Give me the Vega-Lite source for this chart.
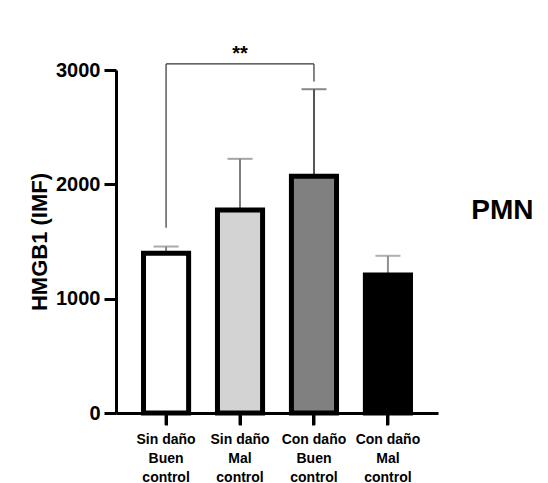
{
  "$schema": "https://vega.github.io/schema/vega-lite/v6.json",
  "width": 322,
  "height": 343,
  "autosize": "none",
  "padding": {"left": 116, "top": 70, "right": 110, "bottom": 70},
  "background": "white",
  "config": {
    "view": {"stroke": null},
    "font": "Liberation Sans",
    "axis": {"labelFont": "Liberation Sans", "titleFont": "Liberation Sans", "labelColor": "black", "titleColor": "black", "domainColor": "black", "tickColor": "black"}
  },
  "title": {
    "text": "PMN",
    "orient": "right",
    "angle": 0,
    "align": "left",
    "baseline": "middle",
    "frame": "group",
    "offset": -29,
    "dy": -31,
    "fontSize": 28,
    "fontWeight": "bold",
    "font": "Liberation Sans",
    "color": "black"
  },
  "datasets": {
    "bars": [
      {"group": "Sin daño / Buen control", "mean": 1397, "upper": 1456},
      {"group": "Sin daño / Mal control", "mean": 1775, "upper": 2223},
      {"group": "Con daño / Buen control", "mean": 2070, "upper": 2832},
      {"group": "Con daño / Mal control", "mean": 1207, "upper": 1375}
    ],
    "legs": [
      {"group": "Sin daño / Buen control", "from": 1620, "to": 3053},
      {"group": "Con daño / Buen control", "from": 2900, "to": 3053}
    ],
    "span": [
      {"start": "Sin daño / Buen control", "end": "Con daño / Buen control", "level": 3053, "mid": "Sin daño / Mal control", "labelY": 3085, "label": "**"}
    ]
  },
  "layer": [
    {
      "data": {"name": "bars"},
      "mark": {"type": "rule", "strokeWidth": 2},
      "encoding": {
        "x": {
          "field": "group", "type": "nominal",
          "scale": {"domain": ["Sin daño / Buen control", "Sin daño / Mal control", "Con daño / Buen control", "Con daño / Mal control"], "paddingInner": 0.39, "paddingOuter": 0.372},
          "axis": {
            "title": null, "labelAngle": 0, "labelAlign": "center", "labelFontSize": 14, "labelFontWeight": "bold",
            "labelLineHeight": 19, "labelPadding": 7, "ticks": true, "tickSize": 12, "tickWidth": 3, "tickColor": "black", "domainWidth": 3,
            "labelExpr": "[split(datum.value, ' / ')[0], split(split(datum.value, ' / ')[1], ' ')[0], split(split(datum.value, ' / ')[1], ' ')[1]]"
          }
        },
        "y": {
          "field": "mean", "type": "quantitative",
          "scale": {"domain": [0, 3000], "nice": false, "zero": true},
          "axis": {
            "title": "HMGB1 (IMF)", "values": [0, 1000, 2000, 3000], "format": "d", "grid": false,
            "labelFontSize": 20, "labelFontWeight": "bold", "labelPadding": 4,
            "tickSize": 12, "tickWidth": 3, "domainWidth": 3,
            "titleFontSize": 22, "titleFontWeight": "bold", "titlePadding": 4
          }
        },
        "y2": {"field": "upper"},
        "color": {"field": "group", "type": "nominal", "legend": null,
          "scale": {"domain": ["Sin daño / Buen control", "Sin daño / Mal control", "Con daño / Buen control", "Con daño / Mal control"], "range": ["#858585", "#7f7f7f", "#555555", "#8f8f8f"]}}
      }
    },
    {
      "data": {"name": "bars"},
      "mark": {"type": "tick", "orient": "horizontal", "size": 25, "thickness": 2},
      "encoding": {
        "x": {"field": "group", "type": "nominal"},
        "y": {"field": "upper", "type": "quantitative"},
        "color": {"field": "group", "type": "nominal", "legend": null}
      }
    },
    {
      "data": {"name": "bars"},
      "mark": {"type": "bar", "stroke": "black", "strokeWidth": 5},
      "encoding": {
        "x": {"field": "group", "type": "nominal"},
        "y": {"field": "mean", "type": "quantitative"},
        "fill": {"field": "group", "type": "nominal", "legend": null,
          "scale": {"domain": ["Sin daño / Buen control", "Sin daño / Mal control", "Con daño / Buen control", "Con daño / Mal control"], "range": ["#ffffff", "#d3d3d3", "#808080", "#000000"]}}
      }
    },
    {
      "data": {"name": "bars"},
      "mark": {"type": "rule", "color": "black", "strokeWidth": 3, "clip": false},
      "encoding": {
        "x": {"field": "group", "type": "nominal"},
        "y": {"datum": 0, "type": "quantitative"},
        "y2": {"datum": -105}
      }
    },
    {
      "data": {"name": "legs"},
      "mark": {"type": "rule", "color": "#333333", "strokeWidth": 1.2},
      "encoding": {
        "x": {"field": "group", "type": "nominal"},
        "y": {"field": "from", "type": "quantitative"},
        "y2": {"field": "to"}
      }
    },
    {
      "data": {"name": "span"},
      "mark": {"type": "rule", "color": "#333333", "strokeWidth": 1.2},
      "encoding": {
        "x": {"field": "start", "type": "nominal"},
        "x2": {"field": "end"},
        "y": {"field": "level", "type": "quantitative"}
      }
    },
    {
      "data": {"name": "span"},
      "mark": {"type": "text", "fontSize": 20, "fontWeight": "bold", "baseline": "alphabetic", "align": "center", "color": "black"},
      "encoding": {
        "x": {"field": "mid", "type": "nominal"},
        "y": {"field": "labelY", "type": "quantitative"},
        "text": {"field": "label"}
      }
    }
  ]
}
